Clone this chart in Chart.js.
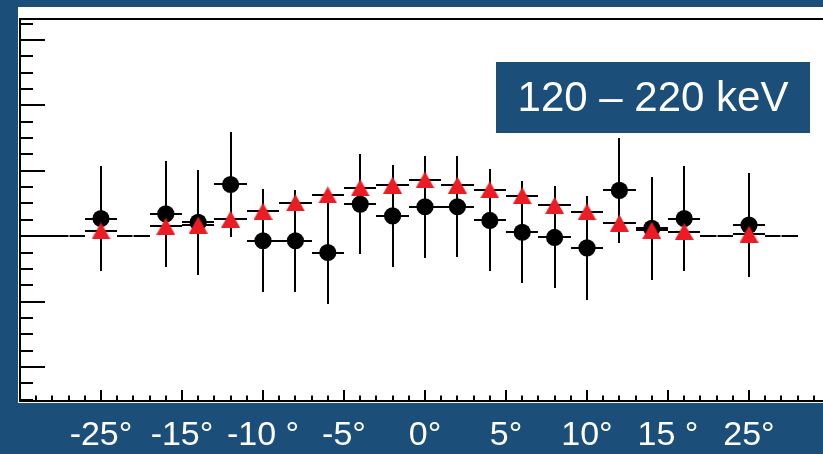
<!DOCTYPE html>
<html>
<head>
<meta charset="utf-8">
<script src="https://cdn.jsdelivr.net/npm/chart.js@4/dist/chart.umd.min.js"></script>
<style>
  html, body { margin: 0; padding: 0; overflow: hidden; background: #1b4f79; }
  #wrap { position: relative; width: 823px; height: 454px; overflow: hidden; }
  canvas { display: block; }
</style>
</head>
<body>
<div id="wrap"><canvas id="modChart" width="850" height="454"></canvas></div>
<script>
// Bin centres (degrees on the drawn axis), bins are 2 wide
const angles = [-20, -16, -14, -12, -10, -8, -6, -4, -2, 0, 2, 4, 6, 8, 10, 12, 14, 16, 20];
const binHalfWidth = 1;

// Measured values (black circles) and their errors
const dataValues = [0.27, 0.34, 0.21, 0.79, -0.07, -0.07, -0.25, 0.49, 0.31, 0.45, 0.45, 0.24, 0.06, -0.02, -0.18, 0.70, 0.12, 0.27, 0.17];
const dataErrors = [0.80, 0.81, 0.80, 0.80, 0.79, 0.78, 0.79, 0.77, 0.78, 0.78, 0.77, 0.78, 0.78, 0.78, 0.79, 0.80, 0.79, 0.80, 0.80];

// Simulated values (red triangles)
const simValues = [0.08, 0.15, 0.17, 0.26, 0.38, 0.51, 0.63, 0.74, 0.78, 0.86, 0.78, 0.71, 0.62, 0.47, 0.37, 0.20, 0.09, 0.07, 0.03];

// Empty bins of the measured histogram, drawn as bare bars at zero
const emptyBins = [-24, -22, -18, 18, 22];

// Labelled major ticks on the x axis
const xTickValues = [-20, -15, -10, -5, 0, 5, 10, 15, 20];
const xTickLabels = ["-25°", "-15°", "-10 °", "-5°", "0°", "5°", "10°", "15 °", "25°"];

const energyLabel = "120 – 220 keV";

const PAD_BLUE = "#1b4f79";
const RED = "#ec1c24";

// filled triangle, centred on its bounding box
function makeTriangle(w, h, color) {
  const c = document.createElement("canvas");
  c.width = w;
  c.height = h;
  const g = c.getContext("2d");
  g.fillStyle = color;
  g.beginPath();
  g.moveTo(w / 2, 0);
  g.lineTo(w, h);
  g.lineTo(0, h);
  g.closePath();
  g.fill();
  return c;
}

// error bars for each dataset, drawn just before its markers
const errorBars = {
  id: "errorBars",
  beforeDatasetDraw(chart, args) {
    const ds = chart.data.datasets[args.index];
    const { x: xs, y: ys } = chart.scales;
    const ctx = chart.ctx;
    const px = (v) => Math.round(xs.getPixelForValue(v));
    const py = (v) => Math.round(ys.getPixelForValue(v));
    ctx.save();
    ctx.strokeStyle = "#000";
    ctx.lineWidth = 2;
    ds.data.forEach((p, i) => {
      const cx = px(p.x);
      const cy = py(p.y);
      const gap = ds.barGap || 0;
      ctx.beginPath();
      ctx.moveTo(px(p.x - binHalfWidth), cy);
      ctx.lineTo(cx - gap, cy);
      ctx.moveTo(cx + gap, cy);
      ctx.lineTo(px(p.x + binHalfWidth), cy);
      if (ds.errY) {
        ctx.moveTo(cx, py(p.y + ds.errY[i]));
        ctx.lineTo(cx, py(p.y - ds.errY[i]));
      }
      ctx.stroke();
    });
    ctx.restore();
  },
};

// pad background, frame, inner ticks and the energy box
const padFrame = {
  id: "padFrame",
  beforeDraw(chart) {
    const { ctx, chartArea: a } = chart;
    ctx.save();
    ctx.fillStyle = PAD_BLUE;
    ctx.fillRect(0, 0, chart.width, chart.height);
    ctx.fillStyle = "#fff";
    ctx.fillRect(a.left - 2, a.top - 12, chart.width, a.bottom - a.top + 14);
    ctx.restore();
  },
  afterDraw(chart) {
    const { ctx, chartArea: a } = chart;
    const { x: xs, y: ys } = chart.scales;
    ctx.save();
    ctx.strokeStyle = "#000";

    ctx.lineWidth = 2;
    ctx.beginPath();
    for (let v = Math.ceil(xs.min); v <= xs.max; v++) {
      const px = Math.round(xs.getPixelForValue(v));
      const len = v % 5 === 0 ? 11 : 5.5;
      ctx.moveTo(px, a.bottom);
      ctx.lineTo(px, a.bottom - len);
    }
    for (let v = Math.ceil(ys.min * 4) / 4; v <= ys.max; v += 0.25) {
      const py = Math.round(ys.getPixelForValue(v));
      const major = Math.abs(v - Math.round(v)) < 1e-6;
      ctx.moveTo(a.left, py);
      ctx.lineTo(a.left + (major ? 25 : 13), py);
    }
    ctx.stroke();

    ctx.lineWidth = 2;
    ctx.strokeRect(a.left, a.top, a.right - a.left, a.bottom - a.top);

    // energy range box
    ctx.fillStyle = PAD_BLUE;
    ctx.fillRect(496, 62, 314, 71);
    ctx.fillStyle = "#fff";
    ctx.font = "42px 'Liberation Sans', Arial, sans-serif";
    ctx.textAlign = "center";
    ctx.textBaseline = "middle";
    ctx.fillText(energyLabel, 653, 99);
    ctx.restore();
  },
};

const ctx = document.getElementById("modChart").getContext("2d");

new Chart(ctx, {
  type: "scatter",
  data: {
    datasets: [
      {
        label: "simulation",
        data: angles.map((a, i) => ({ x: a, y: simValues[i] })),
        pointStyle: makeTriangle(19, 17, RED),
        pointRadius: 8,
      },
      {
        label: "data",
        data: angles.map((a, i) => ({ x: a, y: dataValues[i] })),
        errY: dataErrors,
        pointStyle: "circle",
        pointRadius: 8.6,
        backgroundColor: "#000",
        borderColor: "#000",
        borderWidth: 0,
      },
      {
        label: "empty",
        data: emptyBins.map((a) => ({ x: a, y: 0 })),
        pointRadius: 0,
        barGap: 0.5,
      },
    ],
  },
  options: {
    responsive: false,
    animation: false,
    devicePixelRatio: 1,
    events: [],
    layout: { padding: { left: 20, right: 20, top: 19, bottom: 0 } },
    plugins: {
      legend: { display: false },
      tooltip: { enabled: false },
    },
    scales: {
      x: {
        type: "linear",
        min: -25,
        max: 25,
        afterFit: (scale) => { scale.height = 53; },
        afterBuildTicks: (scale) => {
          scale.ticks = xTickValues.map((v) => ({ value: v }));
        },
        grid: { display: false, drawTicks: false },
        border: { display: false },
        ticks: {
          autoSkip: false,
          maxRotation: 0,
          padding: 14,
          color: "#fff",
          font: { family: "'Liberation Sans', Arial, sans-serif", size: 34 },
          callback: (v) => {
            const i = xTickValues.indexOf(v);
            return i >= 0 ? xTickLabels[i] : "";
          },
        },
      },
      y: {
        type: "linear",
        display: false,
        min: -2.52,
        max: 3.32,
      },
    },
  },
  plugins: [errorBars, padFrame],
});
</script>
</body>
</html>
